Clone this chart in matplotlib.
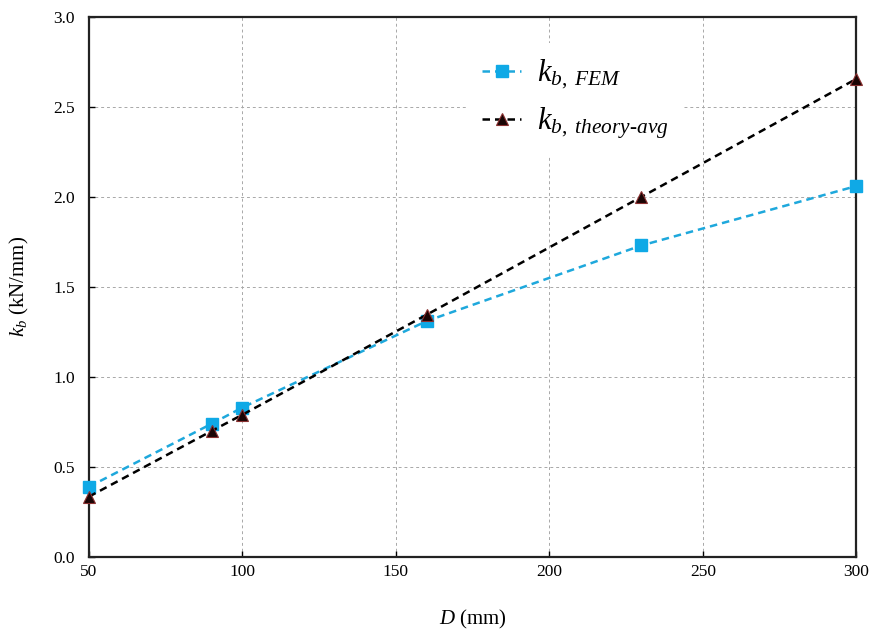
import matplotlib
matplotlib.use("Agg")
import matplotlib.pyplot as plt

plt.rcParams['font.family'] = ['Liberation Serif', 'DejaVu Serif']
plt.rcParams['mathtext.fontset'] = 'custom'
plt.rcParams['mathtext.rm'] = 'Liberation Serif'
plt.rcParams['mathtext.it'] = 'Liberation Serif:italic'

D = [50, 90, 100, 160, 230, 300]
kb_fem = [0.39, 0.74, 0.83, 1.31, 1.73, 2.06]
kb_theory = [0.335, 0.70, 0.79, 1.345, 2.00, 2.655]

xticks = [50, 100, 150, 200, 250, 300]
yticks = [0.0, 0.5, 1.0, 1.5, 2.0, 2.5, 3.0]

fig = plt.figure(figsize=(8.72, 6.34), dpi=100)
ax = fig.add_axes([0.102, 0.1215, 0.880, 0.852])

ax.plot(D, kb_fem, linestyle=(0, (3, 2)), color='#1EA8DC', linewidth=1.8,
        marker='s', markersize=9, markerfacecolor='#0FA9E6', markeredgecolor='#0FA9E6',
        label=r'$k_{b,\ FEM}$', zorder=3, clip_on=False)
ax.plot(D, kb_theory, linestyle=(0, (3, 2)), color='black', linewidth=1.8,
        marker='^', markersize=9, markerfacecolor='#1a0505', markeredgecolor='#8a3030',
        markeredgewidth=0.8, label=r'$k_{b,\ theory\text{-}avg}$', zorder=4, clip_on=False)

ax.set_xlim(50, 300)
ax.set_ylim(0, 3.0)
ax.set_xticks(xticks)
ax.set_yticks(yticks)
ax.set_xticklabels([str(v) for v in xticks])
ax.set_yticklabels([f'{v:.1f}' for v in yticks])
ax.tick_params(direction='in', length=4, width=1, labelsize=12.5)
ax.tick_params(axis='x', pad=5)
ax.tick_params(axis='y', pad=10)
ax.grid(True, color='#a8a8a8', linestyle=(0, (3, 3)), linewidth=0.7)
for s in ax.spines.values():
    s.set_linewidth(1.6)
    s.set_color('#222222')

ax.set_xlabel(r'$D$ (mm)', fontsize=15, labelpad=20)
ax.set_ylabel(r'$k_b$ (kN/mm)', fontsize=15, labelpad=16)

leg = ax.legend(loc='upper left', bbox_to_anchor=(0.472, 0.98), frameon=True,
                fontsize=22, handlelength=1.3, handletextpad=0.5, labelspacing=0.45,
                borderpad=0.5, fancybox=False, edgecolor='none', facecolor='white',
                framealpha=1)

fig.savefig('out.png', dpi=100)
